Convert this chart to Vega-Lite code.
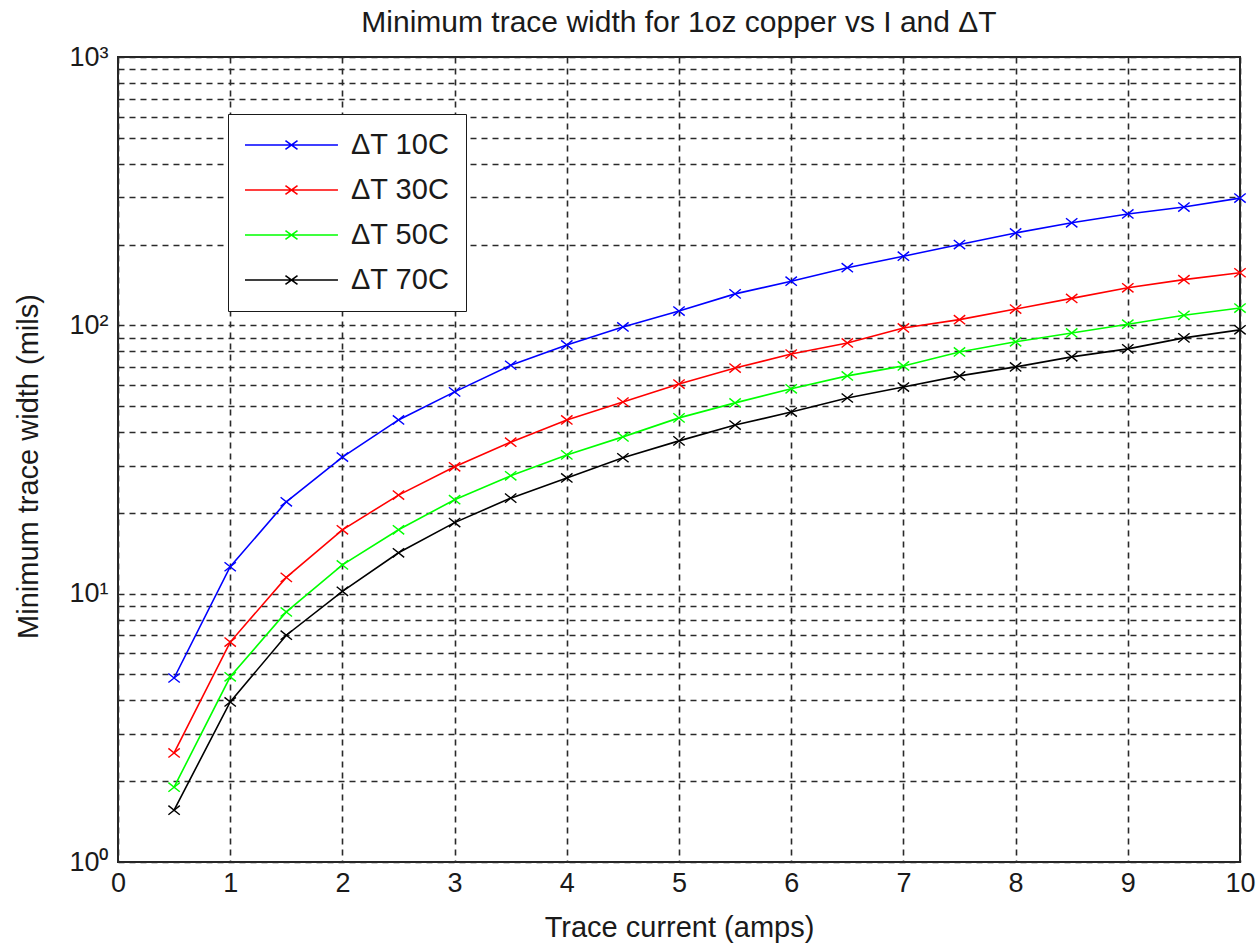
{
  "$schema": "https://vega.github.io/schema/vega-lite/v6.json",
  "autosize": "none",
  "width": 1122,
  "height": 805,
  "padding": {"left": 118, "top": 57, "right": 19, "bottom": 82},
  "background": "white",
  "title": {"text": "Minimum trace width for 1oz copper vs I and ΔT", "fontSize": 30, "fontWeight": "normal", "font": "Liberation Sans", "color": "#1a1a1a", "offset": 5},
  "data": {"values": [
    {"I":0.5,"w":4.85,"s":"ΔT 10C"},{"I":1,"w":12.6,"s":"ΔT 10C"},{"I":1.5,"w":22.0,"s":"ΔT 10C"},{"I":2,"w":32.3,"s":"ΔT 10C"},{"I":2.5,"w":44.4,"s":"ΔT 10C"},{"I":3,"w":56.5,"s":"ΔT 10C"},{"I":3.5,"w":71,"s":"ΔT 10C"},{"I":4,"w":84.5,"s":"ΔT 10C"},{"I":4.5,"w":98.6,"s":"ΔT 10C"},{"I":5,"w":113,"s":"ΔT 10C"},{"I":5.5,"w":131,"s":"ΔT 10C"},{"I":6,"w":146,"s":"ΔT 10C"},{"I":6.5,"w":164,"s":"ΔT 10C"},{"I":7,"w":181,"s":"ΔT 10C"},{"I":7.5,"w":200,"s":"ΔT 10C"},{"I":8,"w":221,"s":"ΔT 10C"},{"I":8.5,"w":241,"s":"ΔT 10C"},{"I":9,"w":260,"s":"ΔT 10C"},{"I":9.5,"w":276,"s":"ΔT 10C"},{"I":10,"w":298,"s":"ΔT 10C"},
    {"I":0.5,"w":2.55,"s":"ΔT 30C"},{"I":1,"w":6.6,"s":"ΔT 30C"},{"I":1.5,"w":11.5,"s":"ΔT 30C"},{"I":2,"w":17.3,"s":"ΔT 30C"},{"I":2.5,"w":23.3,"s":"ΔT 30C"},{"I":3,"w":29.7,"s":"ΔT 30C"},{"I":3.5,"w":36.7,"s":"ΔT 30C"},{"I":4,"w":44.4,"s":"ΔT 30C"},{"I":4.5,"w":51.8,"s":"ΔT 30C"},{"I":5,"w":60.4,"s":"ΔT 30C"},{"I":5.5,"w":69.3,"s":"ΔT 30C"},{"I":6,"w":78.2,"s":"ΔT 30C"},{"I":6.5,"w":86,"s":"ΔT 30C"},{"I":7,"w":97.8,"s":"ΔT 30C"},{"I":7.5,"w":105,"s":"ΔT 30C"},{"I":8,"w":115,"s":"ΔT 30C"},{"I":8.5,"w":126,"s":"ΔT 30C"},{"I":9,"w":138,"s":"ΔT 30C"},{"I":9.5,"w":148,"s":"ΔT 30C"},{"I":10,"w":157,"s":"ΔT 30C"},
    {"I":0.5,"w":1.9,"s":"ΔT 50C"},{"I":1,"w":4.9,"s":"ΔT 50C"},{"I":1.5,"w":8.55,"s":"ΔT 50C"},{"I":2,"w":12.8,"s":"ΔT 50C"},{"I":2.5,"w":17.3,"s":"ΔT 50C"},{"I":3,"w":22.4,"s":"ΔT 50C"},{"I":3.5,"w":27.5,"s":"ΔT 50C"},{"I":4,"w":32.9,"s":"ΔT 50C"},{"I":4.5,"w":38.4,"s":"ΔT 50C"},{"I":5,"w":45.2,"s":"ΔT 50C"},{"I":5.5,"w":51.4,"s":"ΔT 50C"},{"I":6,"w":58,"s":"ΔT 50C"},{"I":6.5,"w":64.8,"s":"ΔT 50C"},{"I":7,"w":70.6,"s":"ΔT 50C"},{"I":7.5,"w":79.6,"s":"ΔT 50C"},{"I":8,"w":86.8,"s":"ΔT 50C"},{"I":8.5,"w":93.7,"s":"ΔT 50C"},{"I":9,"w":101,"s":"ΔT 50C"},{"I":9.5,"w":109,"s":"ΔT 50C"},{"I":10,"w":116,"s":"ΔT 50C"},
    {"I":0.5,"w":1.56,"s":"ΔT 70C"},{"I":1,"w":3.95,"s":"ΔT 70C"},{"I":1.5,"w":7.0,"s":"ΔT 70C"},{"I":2,"w":10.2,"s":"ΔT 70C"},{"I":2.5,"w":14.2,"s":"ΔT 70C"},{"I":3,"w":18.4,"s":"ΔT 70C"},{"I":3.5,"w":22.7,"s":"ΔT 70C"},{"I":4,"w":27,"s":"ΔT 70C"},{"I":4.5,"w":32.1,"s":"ΔT 70C"},{"I":5,"w":37.1,"s":"ΔT 70C"},{"I":5.5,"w":42.5,"s":"ΔT 70C"},{"I":6,"w":47.5,"s":"ΔT 70C"},{"I":6.5,"w":53.6,"s":"ΔT 70C"},{"I":7,"w":58.9,"s":"ΔT 70C"},{"I":7.5,"w":64.8,"s":"ΔT 70C"},{"I":8,"w":70,"s":"ΔT 70C"},{"I":8.5,"w":76.3,"s":"ΔT 70C"},{"I":9,"w":81.7,"s":"ΔT 70C"},{"I":9.5,"w":89.8,"s":"ΔT 70C"},{"I":10,"w":96.2,"s":"ΔT 70C"}
  ]},
  "encoding": {
    "x": {"field": "I", "type": "quantitative", "scale": {"domain": [0, 10], "nice": false, "zero": false},
      "axis": {"title": "Trace current (amps)", "values": [0,1,2,3,4,5,6,7,8,9,10], "format": "d", "labelFlush": false, "labelPadding": 8, "titlePadding": 17}},
    "y": {"field": "w", "type": "quantitative", "scale": {"type": "log", "domain": [1, 1000], "nice": false},
      "axis": {"title": "Minimum trace width (mils)", "values": [1,2,3,4,5,6,7,8,9,10,20,30,40,50,60,70,80,90,100,200,300,400,500,600,700,800,900,1000],
        "labelExpr": "datum.value == 1 ? '10⁰' : datum.value == 10 ? '10¹' : datum.value == 100 ? '10²' : datum.value == 1000 ? '10³' : ''",
        "labelOverlap": false, "labelFlush": false, "labelPadding": 10, "labelFontSize": 27, "titleX": -90, "titleY": 409, "titleAlign": "center", "titleBaseline": "middle", "titleAngle": -90}},
    "color": {"field": "s", "type": "nominal",
      "scale": {"domain": ["ΔT 10C","ΔT 30C","ΔT 50C","ΔT 70C"], "range": ["#0000ff","#ff0000","#00ff00","#000000"]},
      "legend": {"title": null, "orient": "none", "legendX": 110, "legendY": 57, "direction": "vertical",
        "symbolType": "M-1,0L5.64,0M1.89,-0.32L2.75,0.32M1.89,0.32L2.75,-0.32", "symbolSize": 784, "symbolStrokeWidth": 1.6,
        "labelFontSize": 29, "labelOffset": 77, "rowPadding": 15, "padding": 16,
        "strokeColor": "#1a1a1a", "fillColor": "white", "labelColor": "#1a1a1a"}}
  },
  "layer": [
    {"mark": {"type": "line", "strokeWidth": 1.6, "clip": true}},
    {"mark": {"type": "point", "shape": "M-1,-0.8L1,0.8M-1,0.8L1,-0.8", "filled": false, "size": 130, "strokeWidth": 1.4, "opacity": 1}}
  ],
  "config": {
    "font": "Liberation Sans",
    "view": {"stroke": "#262626", "strokeWidth": 2},
    "axis": {"grid": true, "gridColor": "#2a2a2a", "gridDash": [6, 5], "gridWidth": 1.6, "gridOpacity": 1,
      "ticks": false, "domain": false, "labelFontSize": 27, "labelColor": "#1a1a1a", "titleFontSize": 29, "titleFontWeight": "normal", "titleColor": "#1a1a1a", "labelFont": "Liberation Sans", "titleFont": "Liberation Sans"},
    "legend": {"labelFont": "Liberation Sans"}
  }
}
